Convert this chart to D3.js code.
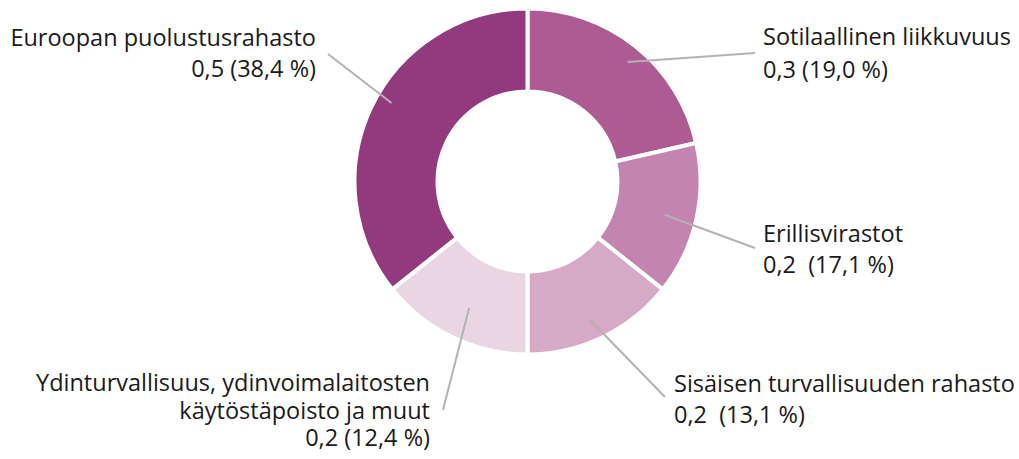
<!DOCTYPE html>
<html>
<head>
<meta charset="utf-8">
<script src="https://cdn.jsdelivr.net/npm/d3@7"></script>
<style>
  body { margin: 0; background: #fff; }
  text { font-family: "Open Sans", sans-serif; font-size: 23.5px; fill: #1a1a1a; white-space: pre; }
</style>
</head>
<body>
<div id="chart"></div>
<script>
// data
var categories = ["Sotilaallinen liikkuvuus", "Erillisvirastot", "Sisäisen turvallisuuden rahasto",
  "Ydinturvallisuus, ydinvoimalaitosten käytöstäpoisto ja muut", "Euroopan puolustusrahasto"];
var values = [0.3, 0.2, 0.2, 0.2, 0.5];
var amountLabels = ["0,3", "0,2 ", "0,2 ", "0,2", "0,5"];
var shares = ["19,0", "17,1", "13,1", "12,4", "38,4"];
var colors = ["#ae5b94", "#c384af", "#d6a9c7", "#ead6e2", "#93397e"];

var svgWidth = 1019;
var svgHeight = 459;
var cx = 527.5, cy = 181.5;
var outerR = 173, innerR = 90;

var svg = d3.select("#chart")
  .append("svg")
  .attr("width", svgWidth)
  .attr("height", svgHeight);

var chartGroup = svg.append("g")
  .attr("transform", `translate(${cx}, ${cy})`);

var data = categories.map(function(c, i) {
  return { name: c, value: values[i], label: amountLabels[i], share: shares[i], color: colors[i] };
});

var pie = d3.pie().sort(null).value(d => d.value);
var arc = d3.arc().innerRadius(innerR).outerRadius(outerR);
var arcs = pie(data);

chartGroup.selectAll("path.slice")
  .data(arcs)
  .enter()
  .append("path")
  .attr("class", "slice")
  .attr("d", arc)
  .attr("fill", d => d.data.color)
  .attr("stroke", "#fff")
  .attr("stroke-width", 4)
  .attr("stroke-linejoin", "miter");

// label layout: leader start (angle offset in deg, radius), leader end, text position
var layout = [
  { off: 1.4, r: 156, end: [755, 53], x: 763, y: 45, anchor: "start", dy: 33 },
  { off: 0.8, r: 141, end: [755, 248], x: 763, y: 242, anchor: "start", dy: 31 },
  { off: 1.4, r: 152, end: [665, 397], x: 674, y: 392, anchor: "start", dy: 31 },
  { off: -0.9, r: 139, end: [443, 410], x: 430, y: 391, anchor: "end", dy: 27.5 },
  { off: 4.3, r: 157, end: [328, 54], x: 316, y: 46, anchor: "end", dy: 31 }
];
var nameLines = [
  ["Sotilaallinen liikkuvuus"],
  ["Erillisvirastot"],
  ["Sisäisen turvallisuuden rahasto"],
  ["Ydinturvallisuus, ydinvoimalaitosten", "käytöstäpoisto ja muut"],
  ["Euroopan puolustusrahasto"]
];

arcs.forEach(function(a, i) {
  var L = layout[i];
  var ang = (a.startAngle + a.endAngle) / 2 + L.off * Math.PI / 180;
  var x0 = cx + L.r * Math.sin(ang);
  var y0 = cy - L.r * Math.cos(ang);

  svg.append("line")
    .attr("x1", x0).attr("y1", y0)
    .attr("x2", L.end[0]).attr("y2", L.end[1])
    .attr("stroke", "#b3b3b3")
    .attr("stroke-width", 2);

  var lines = nameLines[i].concat([a.data.label + " (" + a.data.share + " %)"]);
  var t = svg.append("text")
    .attr("text-anchor", L.anchor);
  lines.forEach(function(s, j) {
    t.append("tspan")
      .attr("x", L.x)
      .attr("y", L.y + j * L.dy)
      .text(s);
  });
});
</script>
</body>
</html>
